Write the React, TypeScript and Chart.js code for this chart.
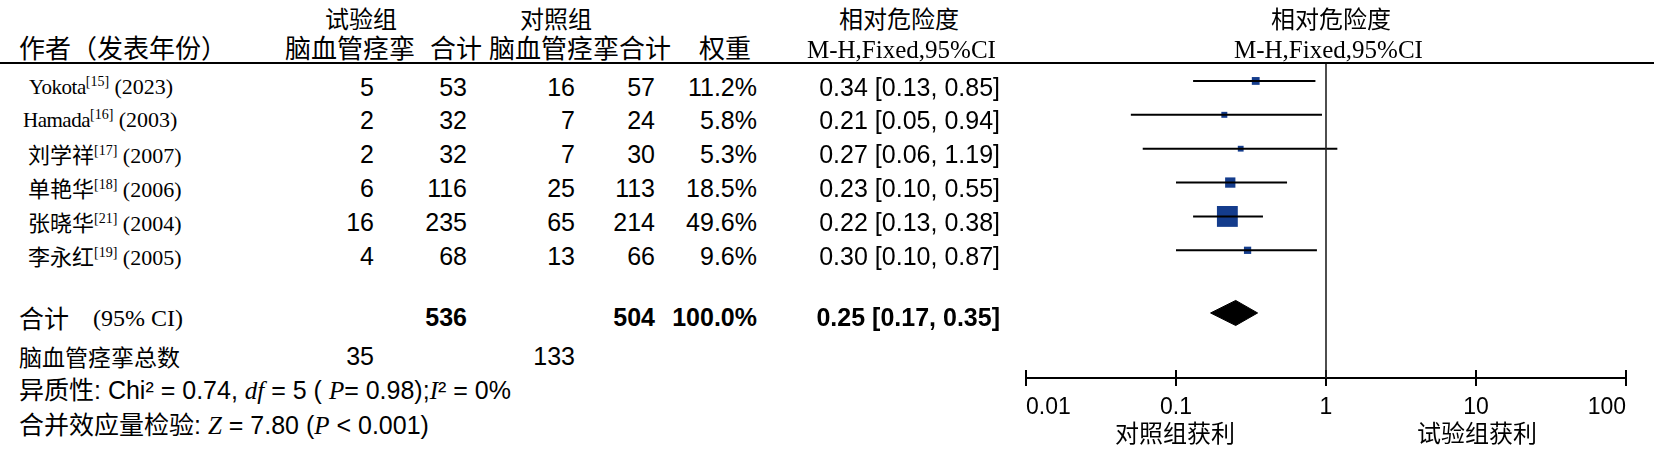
import React, { useEffect, useRef } from 'react';
import { Chart, registerables } from 'chart.js';
Chart.register(...registerables);

const W = 1654;
const H = 454;
const CJK = '"Noto Sans CJK SC", "Noto Sans", sans-serif';
const SERIF = '"Liberation Serif", "Times New Roman", serif';
const SANS = '"Liberation Sans", Arial, sans-serif';
const NAVY = '#143c8c';

// ---- data ----
const studies = ['Yokota', 'Hamada', '刘学祥', '单艳华', '张晓华', '李永红'];
const refs = ['[15]', '[16]', '[17]', '[18]', '[21]', '[19]'];
const years = ['(2023)', '(2003)', '(2007)', '(2006)', '(2004)', '(2005)'];
const expEvents = [5, 2, 2, 6, 16, 4];
const expTotal = [53, 32, 32, 116, 235, 68];
const ctrlEvents = [16, 7, 7, 25, 65, 13];
const ctrlTotal = [57, 24, 30, 113, 214, 66];
const weights = [11.2, 5.8, 5.3, 18.5, 49.6, 9.6];
const rr = [0.34, 0.21, 0.27, 0.23, 0.22, 0.3];
const ciLow = [0.13, 0.05, 0.06, 0.1, 0.13, 0.1];
const ciHigh = [0.85, 0.94, 1.19, 0.55, 0.38, 0.87];
const pooledRR = 0.25;
const pooledLow = 0.17;
const pooledHigh = 0.35;
const totalExp = 536;
const totalCtrl = 504;
const eventsExp = 35;
const eventsCtrl = 133;
const tickValues = [0.01, 0.1, 1, 10, 100];
const tickLabels = ['0.01', '0.1', '1', '10', '100'];

// ---- layout constants ----
const Y_TOP = -0.53;
const Y_AXIS = 8.77;
const POOLED_ROW = 6.85;
const DIAMOND_HALF = 0.37;
const ROW_TEXT_Y0 = 86.5;
const ROW_TEXT_STEP = 33.9;
const CANVAS_LEFT = 960;
const CANVAS_W = 720;

const fmt2 = (v: number) => v.toFixed(2);

type TProps = {
  x: number;
  y: number;
  align?: 'left' | 'right' | 'center';
  size?: number;
  font?: string;
  bold?: boolean;
  children: React.ReactNode;
};

function T({ x, y, align = 'left', size = 25, font = SANS, bold = false, children }: TProps) {
  const style: React.CSSProperties = {
    position: 'absolute',
    top: y,
    whiteSpace: 'nowrap',
    fontSize: size,
    fontFamily: font,
    fontWeight: bold ? 700 : 400,
    lineHeight: 1,
    color: '#000',
  };
  if (align === 'left') {
    style.left = x;
    style.transform = 'translateY(-50%)';
  } else if (align === 'right') {
    style.right = W - x;
    style.transform = 'translateY(-50%)';
  } else {
    style.left = x;
    style.transform = 'translate(-50%, -50%)';
  }
  return <div style={style}>{children}</div>;
}

const It = ({ children }: { children: React.ReactNode }) => (
  <span style={{ fontFamily: SERIF, fontStyle: 'italic' }}>{children}</span>
);
const Cj = ({ children, size }: { children: React.ReactNode; size?: number }) => (
  <span style={{ fontFamily: CJK, fontSize: size }}>{children}</span>
);

function ForestPlot() {
  const ref = useRef<HTMLCanvasElement>(null);
  useEffect(() => {
    const canvas = ref.current;
    if (!canvas) return;
    const ciSets = studies.map((_, i) => ({
      data: [
        { x: ciLow[i], y: i },
        { x: ciHigh[i], y: i },
      ],
      borderColor: '#000',
      borderWidth: 2,
      pointRadius: 0,
      fill: false,
    }));
    const chart = new Chart(canvas, {
      type: 'line',
      data: {
        datasets: [
          {
            data: [
              { x: 1, y: Y_TOP },
              { x: 1, y: Y_AXIS },
            ],
            borderColor: '#222',
            borderWidth: 1.6,
            pointRadius: 0,
            fill: false,
          },
          ...ciSets,
          {
            data: rr.map((v, i) => ({ x: v, y: i })),
            showLine: false,
            pointStyle: 'rect',
            pointRadius: weights.map((w) => (4 + 0.34 * w) / Math.SQRT2),
            pointBackgroundColor: NAVY,
            pointBorderColor: NAVY,
            pointBorderWidth: 0,
            fill: false,
          },
          {
            data: [
              { x: pooledLow, y: POOLED_ROW },
              { x: pooledRR, y: POOLED_ROW - DIAMOND_HALF },
              { x: pooledHigh, y: POOLED_ROW },
              { x: pooledRR, y: POOLED_ROW + DIAMOND_HALF },
              { x: pooledLow, y: POOLED_ROW },
            ],
            borderColor: '#000',
            borderWidth: 1,
            backgroundColor: '#000',
            fill: 'shape',
            pointRadius: 0,
            tension: 0,
          },
          {
            data: tickValues.map((v) => ({ x: v, y: Y_AXIS })),
            showLine: false,
            pointStyle: 'line',
            pointRotation: 90,
            pointRadius: 8,
            pointBorderColor: '#000',
            pointBorderWidth: 2,
            clip: false,
            fill: false,
          },
        ],
      } as any,
      options: {
        responsive: false,
        animation: false,
        devicePixelRatio: 1,
        events: [],
        layout: {
          padding: { left: 1026 - CANVAS_LEFT, right: CANVAS_LEFT + CANVAS_W - 1626, top: 63, bottom: 24 },
        },
        plugins: { legend: { display: false }, tooltip: { enabled: false } },
        scales: {
          x: {
            type: 'logarithmic',
            min: 0.01,
            max: 100,
            position: 'bottom',
            afterBuildTicks: (s: any) => {
              s.ticks = tickValues.map((v) => ({ value: v }));
            },
            afterFit: (s: any) => {
              s.height = 52;
            },
            ticks: {
              autoSkip: false,
              maxRotation: 0,
              align: 'inner',
              padding: 16,
              color: '#000',
              font: { family: SANS, size: 23 },
              callback: (_v: any, i: number) => tickLabels[i],
            },
            grid: { display: true, drawOnChartArea: false, drawTicks: false },
            border: { display: true, color: '#000', width: 2 },
          },
          y: { type: 'linear', min: Y_TOP, max: Y_AXIS, reverse: true, display: false },
        },
      } as any,
    });
    return () => chart.destroy();
  }, []);
  return (
    <canvas
      ref={ref}
      width={CANVAS_W}
      height={H}
      style={{ position: 'absolute', left: CANVAS_LEFT, top: 0, width: CANVAS_W, height: H }}
    />
  );
}

export default function App() {
  const rowY = (i: number) => ROW_TEXT_Y0 + i * ROW_TEXT_STEP;
  const nameX = [29, 23, 28, 28, 28, 28];
  return (
    <div
      style={{
        position: 'absolute',
        left: 0,
        top: 0,
        width: W,
        height: H,
        background: '#fff',
        overflow: 'hidden',
      }}
    >
      <ForestPlot />

      {/* headers */}
      <T x={361} y={18} align="center" font={CJK} size={24}>试验组</T>
      <T x={556} y={18} align="center" font={CJK} size={24}>对照组</T>
      <T x={899} y={18} align="center" font={CJK} size={24}>相对危险度</T>
      <T x={1331} y={18} align="center" font={CJK} size={24}>相对危险度</T>
      <T x={19} y={47} font={CJK} size={26}>作者（发表年份）</T>
      <T x={285} y={47} font={CJK} size={26}>脑血管痉挛</T>
      <T x={430} y={47} font={CJK} size={26}>合计</T>
      <T x={489} y={47} font={CJK} size={26}>脑血管痉挛合计</T>
      <T x={699} y={47} font={CJK} size={26}>权重</T>
      <T x={807} y={49} font={SERIF} size={25}>M-H,Fixed,95%CI</T>
      <T x={1234} y={49} font={SERIF} size={25}>M-H,Fixed,95%CI</T>
      <div style={{ position: 'absolute', left: 0, top: 62, width: W, height: 2, background: '#000' }} />

      {/* study rows */}
      {studies.map((name, i) => {
        const latin = /^[A-Za-z]/.test(name);
        return (
          <React.Fragment key={name}>
            <T x={nameX[i]} y={rowY(i)} font={latin ? SERIF : CJK} size={latin ? 21 : 22}>
              <span style={latin ? { letterSpacing: -0.5 } : undefined}>{name}</span>
              <span style={{ fontFamily: SERIF, fontSize: 14, position: 'relative', top: -8 }}>{refs[i]}</span>
              <span style={{ fontFamily: SERIF, fontSize: 22 }}> {years[i]}</span>
            </T>
            <T x={374} y={rowY(i)} align="right">{expEvents[i]}</T>
            <T x={467} y={rowY(i)} align="right">{expTotal[i]}</T>
            <T x={575} y={rowY(i)} align="right">{ctrlEvents[i]}</T>
            <T x={655} y={rowY(i)} align="right">{ctrlTotal[i]}</T>
            <T x={757} y={rowY(i)} align="right">{weights[i].toFixed(1)}%</T>
            <T x={1000} y={rowY(i)} align="right">
              {fmt2(rr[i])} [{fmt2(ciLow[i])}, {fmt2(ciHigh[i])}]
            </T>
          </React.Fragment>
        );
      })}

      {/* pooled row */}
      <T x={19} y={317} font={CJK} size={25}>合计</T>
      <T x={93} y={318} font={SERIF} size={24}>(95% CI)</T>
      <T x={467} y={317} align="right" bold>{totalExp}</T>
      <T x={655} y={317} align="right" bold>{totalCtrl}</T>
      <T x={757} y={317} align="right" bold>{weights.reduce((a, b) => a + b, 0).toFixed(1)}%</T>
      <T x={1000} y={317} align="right" bold>
        {fmt2(pooledRR)} [{fmt2(pooledLow)}, {fmt2(pooledHigh)}]
      </T>

      <T x={19} y={356} font={CJK} size={23}>脑血管痉挛总数</T>
      <T x={374} y={356} align="right">{eventsExp}</T>
      <T x={575} y={356} align="right">{eventsCtrl}</T>

      <T x={19} y={389} size={25}>
        <Cj>异质性</Cj>: Chi² = 0.74, <It>df</It> = 5 ( <It>P</It>= 0.98);<It>I</It>² = 0%
      </T>
      <T x={19} y={424} size={25}>
        <Cj>合并效应量检验</Cj>: <It>Z</It> = 7.80 (<It>P</It> &lt; 0.001)
      </T>

      {/* bottom axis captions */}
      <T x={1175} y={432} align="center" font={CJK} size={24}>对照组获利</T>
      <T x={1477} y={432} align="center" font={CJK} size={24}>试验组获利</T>
    </div>
  );
}
